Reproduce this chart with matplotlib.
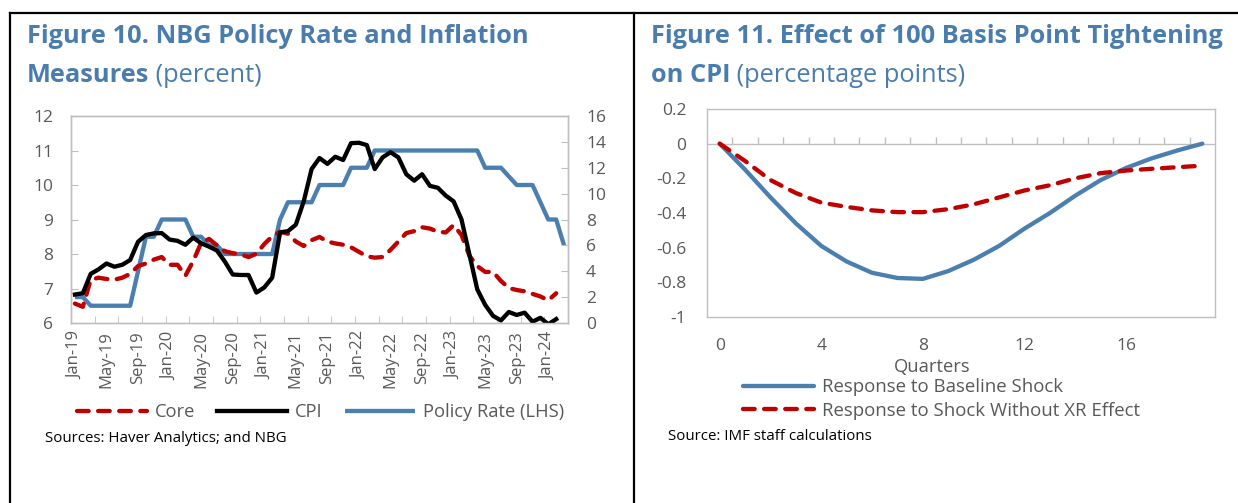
import numpy as np
import pandas as pd
import matplotlib
matplotlib.use('Agg')
import matplotlib.pyplot as plt
from matplotlib.lines import Line2D

plt.rcParams['font.family'] = ['Open Sans', 'DejaVu Sans']
plt.rcParams['axes.unicode_minus'] = False

# ---------------- data ----------------
months = pd.date_range('2019-01-01', periods=63, freq='MS').strftime('%b-%y').tolist()

policy_rate = [6.75, 6.75, 6.5, 6.5, 6.5, 6.5, 6.5, 6.5, 7.5, 8.5, 8.5,
               9.0, 9.0, 9.0, 9.0, 8.5, 8.5, 8.25, 8.25,
               8.0, 8.0, 8.0, 8.0, 8.0, 8.0, 8.0, 9.0,
               9.5, 9.5, 9.5, 9.5, 10.0, 10.0, 10.0, 10.0, 10.5, 10.5, 10.5,
               11.0, 11.0, 11.0, 11.0, 11.0, 11.0, 11.0, 11.0, 11.0, 11.0, 11.0, 11.0, 11.0, 11.0,
               10.5, 10.5, 10.5, 10.25, 10.0, 10.0, 10.0, 9.5, 9.0, 9.0, 8.25]

cpi = [2.2, 2.3, 3.8, 4.15, 4.6, 4.35, 4.5, 4.87, 6.28, 6.8, 6.93, 6.95,
       6.45, 6.35, 6.05, 6.6, 6.16, 5.9, 5.6, 4.75, 3.75, 3.71, 3.71, 2.35,
       2.75, 3.5, 7.0, 7.1, 7.6, 9.4, 11.9, 12.75, 12.3, 12.85, 12.6, 13.9,
       13.93, 13.75, 11.9, 12.8, 13.2, 12.8, 11.5, 11.0, 11.5, 10.6, 10.45, 9.85,
       9.4, 8.0, 5.3, 2.6, 1.4, 0.55, 0.2, 0.85, 0.62, 0.8, 0.1, 0.4, -0.1, 0.3]

core = [1.5, 1.25, 3.35, 3.5, 3.4, 3.35, 3.5, 3.8, 4.4, 4.6, 4.9, 5.1,
        4.5, 4.5, 3.65, 4.8, 6.2, 6.5, 6.0, 5.55, 5.4, 5.3, 5.1, 5.35,
        6.1, 6.7, 7.05, 6.9, 6.3, 5.95, 6.4, 6.65, 6.3, 6.15, 6.05, 5.85,
        5.5, 5.15, 5.05, 5.1, 5.65, 6.3, 6.95, 7.1, 7.4, 7.3, 7.05, 7.0,
        7.57, 6.8, 5.2, 4.4, 3.95, 3.95, 3.25, 2.7, 2.55, 2.45, 2.25, 2.05, 1.75, 2.3]

quarters = list(range(20))
baseline = [0, -0.15, -0.31, -0.46, -0.59, -0.68, -0.745, -0.775, -0.78, -0.735,
            -0.67, -0.59, -0.49, -0.40, -0.30, -0.21, -0.14, -0.085, -0.04, 0.0]
no_xr = [0, -0.10, -0.21, -0.285, -0.34, -0.365, -0.385, -0.395, -0.395, -0.378,
         -0.35, -0.31, -0.27, -0.24, -0.20, -0.17, -0.155, -0.145, -0.136, -0.127]

irf_ticks = [-1, -0.8, -0.6, -0.4, -0.2, 0, 0.2]

# ---------------- style ----------------
W, H = 1238, 503
BLUE = '#4B7FAF'
RED = '#C00000'
TITLE = '#4A7DAE'
EDGE = '#BFBFBF'
TXT = '#595959'
LW = 3.1
DASH = (2.7, 2.2)
TFS = 18.3


def fx(px):
    return px / W


def fy(py):
    return 1 - py / H


fig = plt.figure(figsize=(W / 100, H / 100), dpi=100)

# panel frame
for xs, ys in [([10, W], [13, 13]), ([10, 10], [13, H]), ([634, 634], [13, H])]:
    fig.add_artist(Line2D([fx(v) for v in xs], [fy(v) for v in ys], color='black', lw=1.6))


def two_part_title(x, y, bold, normal):
    t = fig.text(fx(x), fy(y), bold, color=TITLE, fontsize=TFS, fontweight='bold', va='center', ha='left')
    if normal:
        plt.annotate(normal, xy=(1, 0), xycoords=t, va='bottom', ha='left',
                     color=TITLE, fontsize=TFS, annotation_clip=False)
    return t


def style_spines(ax):
    for s in ax.spines.values():
        s.set_color(EDGE)
        s.set_linewidth(1)


# ---------------- Figure 10 ----------------
ax1 = fig.add_axes([fx(71), fy(323), fx(568) - fx(71), fy(116) - fy(323)])
x = np.arange(len(months))
ax1.plot(x, policy_rate, color=BLUE, lw=LW, solid_joinstyle='round', solid_capstyle='butt',
         label='Policy Rate (LHS)')
ax1.set_xlim(-0.5, len(months) - 0.5)
ax1.set_ylim(6, 12)
ax1.set_yticks(range(6, 13))
ax1.set_xticks(x[::4])
ax1.set_xticklabels(months[::4], rotation=90)
ax1.set_xticks(np.arange(2.5, len(months) - 1, 3), minor=True)
ax1.tick_params(axis='x', which='major', length=0, pad=6, labelsize=12, labelcolor=TXT)
ax1.tick_params(axis='x', which='minor', direction='in', length=5, color=EDGE)
ax1.tick_params(axis='y', direction='in', length=5, color=EDGE, pad=13, labelsize=12.5, labelcolor=TXT)
style_spines(ax1)

ax1b = ax1.twinx()
ax1b.plot(np.arange(len(core)), core, color=RED, lw=LW, dashes=DASH, dash_capstyle='round', label='Core')
ax1b.plot(np.arange(len(cpi)), cpi, color='black', lw=LW, solid_joinstyle='round', label='CPI')
ax1b.set_ylim(0, 16)
ax1b.set_yticks(range(0, 17, 2))
ax1b.tick_params(axis='y', direction='in', length=5, color=EDGE, pad=13, labelsize=12.5, labelcolor=TXT)
style_spines(ax1b)

h1, l1 = ax1b.get_legend_handles_labels()
h0, l0 = ax1.get_legend_handles_labels()
fig.legend(h1 + h0, l1 + l0, loc='center left', bbox_to_anchor=(fx(77), fy(412)), ncol=3,
           frameon=False, fontsize=13.2, labelcolor=TXT, handlelength=3.8, handletextpad=0.45,
           columnspacing=1.2, borderpad=0, borderaxespad=0)

two_part_title(27, 37, 'Figure 10. NBG Policy Rate and Inflation', None)
two_part_title(27, 75, 'Measures', ' (percent)')
fig.text(fx(45), fy(438), 'Sources: Haver Analytics; and NBG', fontsize=10.8, va='center', color='black')

# ---------------- Figure 11 ----------------
ax2 = fig.add_axes([fx(707), fy(317), fx(1215) - fx(707), fy(109) - fy(317)])
ax2.plot(quarters, baseline, color=BLUE, lw=LW, solid_capstyle='round',
         label='Response to Baseline Shock')
ax2.plot(quarters, no_xr, color=RED, lw=LW, dashes=DASH, dash_capstyle='round',
         label='Response to Shock Without XR Effect')
ax2.set_xlim(-0.5, len(quarters) - 0.5)
ax2.set_ylim(-1, 0.2)
ax2.set_yticks(irf_ticks)
ax2.set_yticklabels(['%g' % v for v in irf_ticks])
ax2.set_xticks(quarters[::4])
ax2.tick_params(axis='x', length=0, pad=15, labelsize=12.5, labelcolor=TXT)
ax2.tick_params(axis='y', length=0, pad=15, labelsize=12.5, labelcolor=TXT)
ax2.axhline(0, color=EDGE, lw=1, zorder=1)
ax2.vlines(np.arange(0.5, len(quarters) - 1, 1), 0, 0.04, color=EDGE, lw=1, zorder=1)
style_spines(ax2)

fig.text(fx(932), fy(367), 'Quarters', fontsize=13.2, ha='center', va='center', color=TXT)
fig.legend(*ax2.get_legend_handles_labels(), loc='center left', bbox_to_anchor=(fx(743), fy(399)),
           frameon=False, fontsize=13.4, labelcolor=TXT, handlelength=3.8, handletextpad=0.45,
           labelspacing=0.3, borderpad=0, borderaxespad=0)

two_part_title(651, 37, 'Figure 11. Effect of 100 Basis Point Tightening', None)
two_part_title(651, 75, 'on CPI', ' (percentage points)')
fig.text(fx(668), fy(437), 'Source: IMF staff calculations', fontsize=10.8, va='center', color='black')

fig.savefig('out.png', dpi=100)
